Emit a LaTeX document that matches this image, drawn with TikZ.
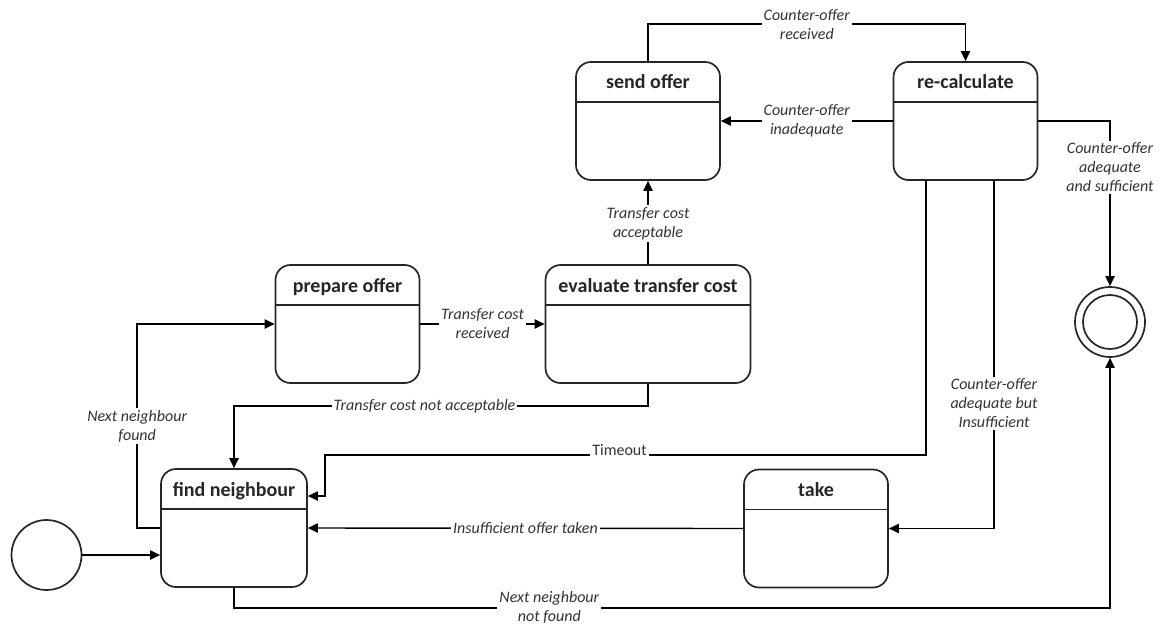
\documentclass[tikz,border=0pt]{standalone}
\usepackage{fontspec}
\setmainfont{Carlito}
\usetikzlibrary{arrows.meta}
\usetikzlibrary{calc}

\begin{document}
\begin{tikzpicture}[x=0.5pt,y=-0.5pt,line width=0.7pt,
  >={Triangle[length=5pt,width=4.6pt]},
  state/.style={rectangle,draw=black!85,rounded corners=7.5pt,line width=0.85pt,
    minimum width=72pt,inner sep=0pt,text height=13.5pt,text depth=45.5pt,
    text=black!85,font=\bfseries\fontsize{10}{12}\selectfont,
    path picture={\draw ([yshift=-20pt]path picture bounding box.north west)
      -- ([yshift=-20pt]path picture bounding box.north east);}},
  initial/.style={circle,draw=black!85,line width=0.85pt,minimum size=35pt,inner sep=0pt},
  final/.style={circle,draw=black!85,line width=0.85pt,minimum size=35pt,inner sep=0pt,
    path picture={\draw (path picture bounding box.center) circle (13.5pt);}},
  lbl/.style={fill=white,inner sep=1pt,align=center,text=black!80,
    font=\itshape\fontsize{8}{9.5}\selectfont},
  plainlbl/.style={fill=white,inner sep=1pt,text=black!80,
    font=\fontsize{8}{9.5}\selectfont}]
\useasboundingbox (0,0) rectangle (1160,626);
\node[initial] (init) at (46.5,555) {};
\node[final] (final) at (1110,322) {};
\node[state,minimum width=73pt] (find) at (234,528) {find neighbour};
\node[state] (prepare) at (347.5,324) {prepare offer};
\node[state,minimum width=102.5pt] (evaluate) at (648,324) {evaluate transfer cost};
\node[state] (send) at (648,121) {send offer};
\node[state] (recalc) at (965.5,121) {re-calculate};
\node[state] (take) at (816,528.5) {take};
\draw [->] (init) -- (init -| find.west);
\draw [->] (find.west) -- ++(-23,0) |- node[lbl,pos=0.25] (found) {Next neighbour\\found} (prepare.west);
\draw [->] (prepare.east) -- node[lbl] (received) {Transfer cost\\received} (evaluate.west);
\draw [->] (evaluate.north) -- node[lbl,pos=0.49] (acceptable) {Transfer cost\\acceptable} (send.south);
\draw [->] (send.north) -- ++(0,-37) -| node[lbl,pos=0.25] (cofrec) {Counter-offer\\received} (recalc.north);
\draw [->] (recalc.west) -- node[lbl] (inadeq) {Counter-offer\\inadequate} (send.east);
\draw [->] (recalc.east) -| node[lbl,pos=0.64] (suff) {Counter-offer\\adequate\\and sufficient} (final.north);
\draw [->] ($(recalc.south)+(28.5,0)$) |- node[lbl,pos=0.32] (insuff) {Counter-offer\\adequate but\\Insufficient} (take.east);
\draw [->] (take.west) -- node[lbl] (taken) {Insufficient offer taken} (find.east);
\draw [->] ($(recalc.south)+(-39.5,0)$) -- ++(0,274) -- node[plainlbl,anchor=south,yshift=-1.5pt,pos=0.51] (timeout) {Timeout} ++(-601,0) |- ($(find.east)+(0,-32)$);
\draw [->] (evaluate.south) -- ++(0,22) -| node[lbl,pos=0.27] (notacc) {Transfer cost not acceptable} (find.north);
\draw [->] (find.south) -- ++(0,20) -| node[lbl,pos=0.18] (notfound) {Next neighbour\\not found} (final.south);
\end{tikzpicture}
\end{document}
